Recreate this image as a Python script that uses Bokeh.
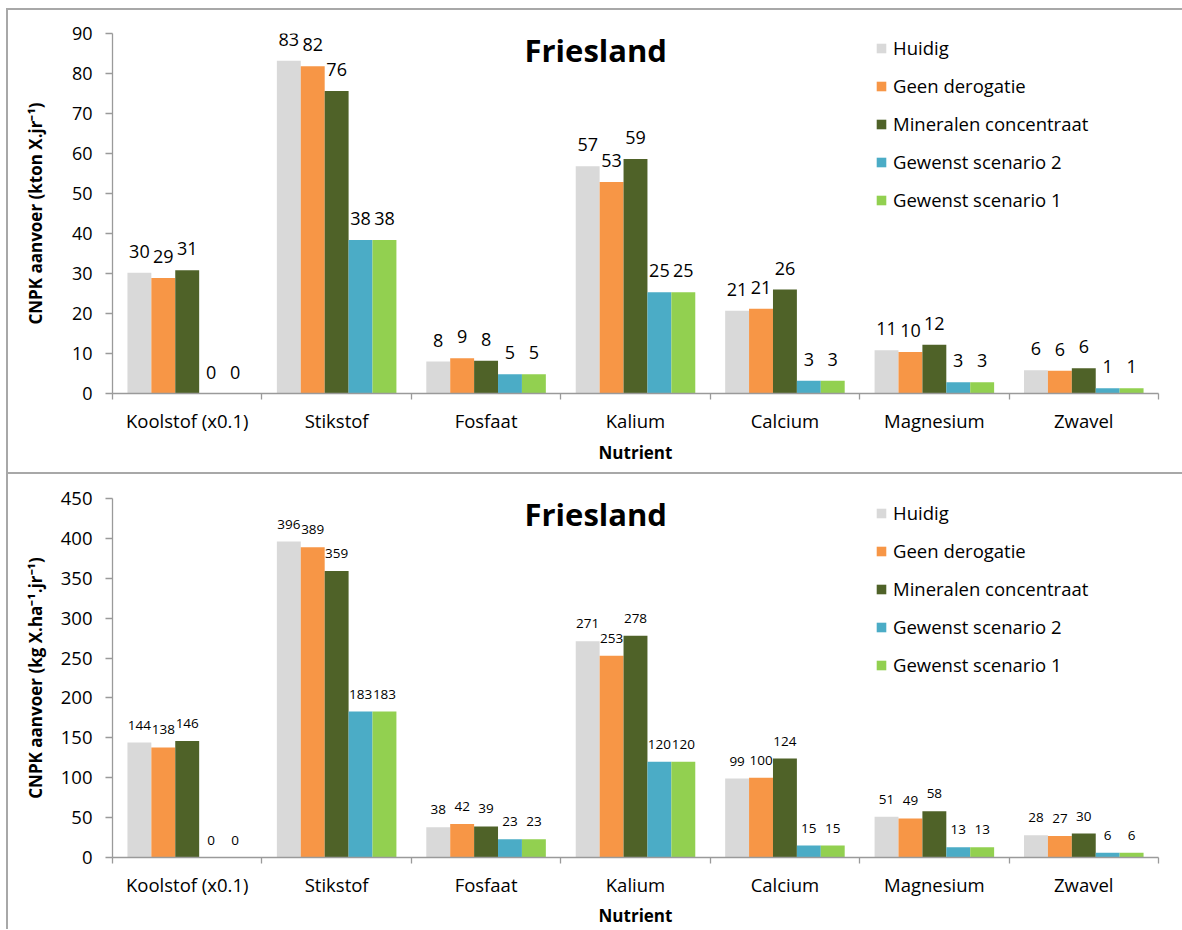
from bokeh.plotting import figure
from bokeh.models import (Range1d, FixedTicker, ColumnDataSource, Legend,
                          LegendItem, LabelSet, Label)
from bokeh.core.properties import value
from bokeh.layouts import column
from bokeh.embed import file_html
from bokeh.resources import INLINE

FONT = "Open Sans"
AXIS_GREY = "#9a9a9a"
TEXT = "#000000"

categories = ["Koolstof (x0.1)", "Stikstof", "Fosfaat", "Kalium",
              "Calcium", "Magnesium", "Zwavel"]
series_names = ["Huidig", "Geen derogatie", "Mineralen concentraat",
                "Gewenst scenario 2", "Gewenst scenario 1"]
series_colors = ["#D9D9D9", "#F79646", "#4F6228", "#4BACC6", "#92D050"]

# Supply per province (kton X per year)
huidig_kton = [30.2, 83.2, 8.0, 56.8, 20.7, 10.8, 5.8]
geen_derogatie_kton = [28.9, 81.8, 8.8, 52.9, 21.2, 10.4, 5.7]
mineralen_kton = [30.8, 75.6, 8.2, 58.6, 26.0, 12.2, 6.3]
gewenst2_kton = [0.0, 38.4, 4.8, 25.3, 3.2, 2.8, 1.3]
gewenst1_kton = [0.0, 38.4, 4.8, 25.3, 3.2, 2.8, 1.3]

# Supply per hectare (kg X per ha per year)
huidig_kgha = [144, 396, 38, 271, 99, 51, 28]
geen_derogatie_kgha = [138, 389, 42, 253, 100, 49, 27]
mineralen_kgha = [146, 359, 39, 278, 124, 58, 30]
gewenst2_kgha = [0, 183, 23, 120, 15, 13, 6]
gewenst1_kgha = [0, 183, 23, 120, 15, 13, 6]

kton_series = [huidig_kton, geen_derogatie_kton, mineralen_kton,
               gewenst2_kton, gewenst1_kton]
kgha_series = [huidig_kgha, geen_derogatie_kgha, mineralen_kgha,
               gewenst2_kgha, gewenst1_kgha]

y_ticks_kton = [0, 10, 20, 30, 40, 50, 60, 70, 80, 90]
y_ticks_kgha = [0, 50, 100, 150, 200, 250, 300, 350, 400, 450]


def build_panel(series, y_ticks, y_label, frame_h, border_top, border_bottom,
                value_font, value_gap, tick_font, ylab_standoff, xlab_standoff,
                legend_y, title_y):
    n = len(categories)
    y_max = y_ticks[-1]
    p = figure(frame_width=1046, frame_height=frame_h,
               min_border_left=106, min_border_right=24,
               min_border_top=border_top, min_border_bottom=border_bottom,
               x_range=Range1d(0, n), y_range=Range1d(0, y_max),
               output_backend="svg", toolbar_location=None, tools="")
    p.background_fill_color = "white"
    p.border_fill_color = None
    p.outline_line_color = None
    p.xgrid.visible = False
    p.ygrid.visible = False
    p.styles = {"box-shadow": "inset 2px 2px 0 0 #a8a8a8"}

    bar_w = 0.16
    items = []
    for j, (name, vals, color) in enumerate(zip(series_names, series, series_colors)):
        xs = [i + 0.5 + (j - 2) * bar_w for i in range(n)]
        src = ColumnDataSource(dict(x=xs, top=vals,
                                    label=[f"{v:.0f}" for v in vals]))
        r = p.vbar(x="x", top="top", bottom=0, width=bar_w, source=src,
                   fill_color=color, line_color=None)
        p.add_layout(LabelSet(x="x", y="top", text="label", source=src,
                              text_align="center", text_baseline="alphabetic",
                              y_offset=value_gap, text_font=value(FONT),
                              text_font_size=value(value_font),
                              text_color=TEXT))
        items.append(LegendItem(label=name, renderers=[r]))

    # category axis: names at centres, separator ticks between groups
    xa = p.xaxis[0]
    xa.ticker = FixedTicker(ticks=[i + 0.5 for i in range(n)],
                            minor_ticks=list(range(n + 1)))
    xa.major_label_overrides = {i + 0.5: c for i, c in enumerate(categories)}
    xa.major_tick_out = 0
    xa.major_tick_in = 0
    xa.minor_tick_out = 6
    xa.minor_tick_in = 0
    xa.major_label_standoff = 8
    xa.axis_label = "Nutrient"
    xa.axis_label_standoff = xlab_standoff

    ya = p.yaxis[0]
    ya.ticker = FixedTicker(ticks=y_ticks)
    ya.major_tick_out = 7
    ya.major_tick_in = 0
    ya.minor_tick_out = 0
    ya.minor_tick_in = 0
    ya.major_label_standoff = 13
    ya.axis_label = y_label
    ya.axis_label_standoff = ylab_standoff

    for ax in (xa, ya):
        ax.axis_line_color = AXIS_GREY
        ax.axis_line_width = 1.3
        ax.major_tick_line_color = AXIS_GREY
        ax.major_tick_line_width = 1.3
        ax.minor_tick_line_color = AXIS_GREY
        ax.minor_tick_line_width = 1.3
        ax.major_label_text_font = FONT
        ax.major_label_text_color = TEXT
        ax.axis_label_text_font = FONT
        ax.axis_label_text_font_style = "bold"
        ax.axis_label_text_font_size = "17px"
        ax.axis_label_text_color = TEXT
    xa.major_label_text_font_size = "18.5px"
    ya.major_label_text_font_size = tick_font

    p.add_layout(Label(x=n * 0.462, y=title_y, text="Friesland",
                       text_align="center", text_baseline="alphabetic",
                       text_font=FONT, text_font_style="bold",
                       text_font_size="31px", text_color=TEXT))

    legend = Legend(items=items, location=(763, legend_y),
                    border_line_color=None, background_fill_alpha=0,
                    label_text_font=FONT, label_text_font_size="18.5px",
                    label_text_color=TEXT, glyph_width=12, glyph_height=12,
                    label_standoff=6, spacing=13, padding=0, margin=0,
                    label_height=20)
    p.add_layout(legend)
    p.margin = (0, 0, 0, 6)
    return p


top = build_panel(kton_series, y_ticks_kton, "CNPK aanvoer (kton X.jr\u207b\u00b9)",
                  frame_h=360, border_top=25, border_bottom=79,
                  value_font="18px", value_gap=15, tick_font="18px",
                  ylab_standoff=22, xlab_standoff=5,
                  legend_y=181, title_y=86.0)
top.margin = (8, 0, 0, 6)

bottom = build_panel(kgha_series, y_ticks_kgha,
                     "CNPK aanvoer (kg X.ha\u207b\u00b9.jr\u207b\u00b9)",
                     frame_h=359, border_top=26, border_bottom=71,
                     value_font="13.5px", value_gap=13, tick_font="18.5px",
                     ylab_standoff=11, xlab_standoff=4,
                     legend_y=180, title_y=430.0)

layout = column(top, bottom, spacing=0)
open("out.html", "w").write(file_html(layout, INLINE))
